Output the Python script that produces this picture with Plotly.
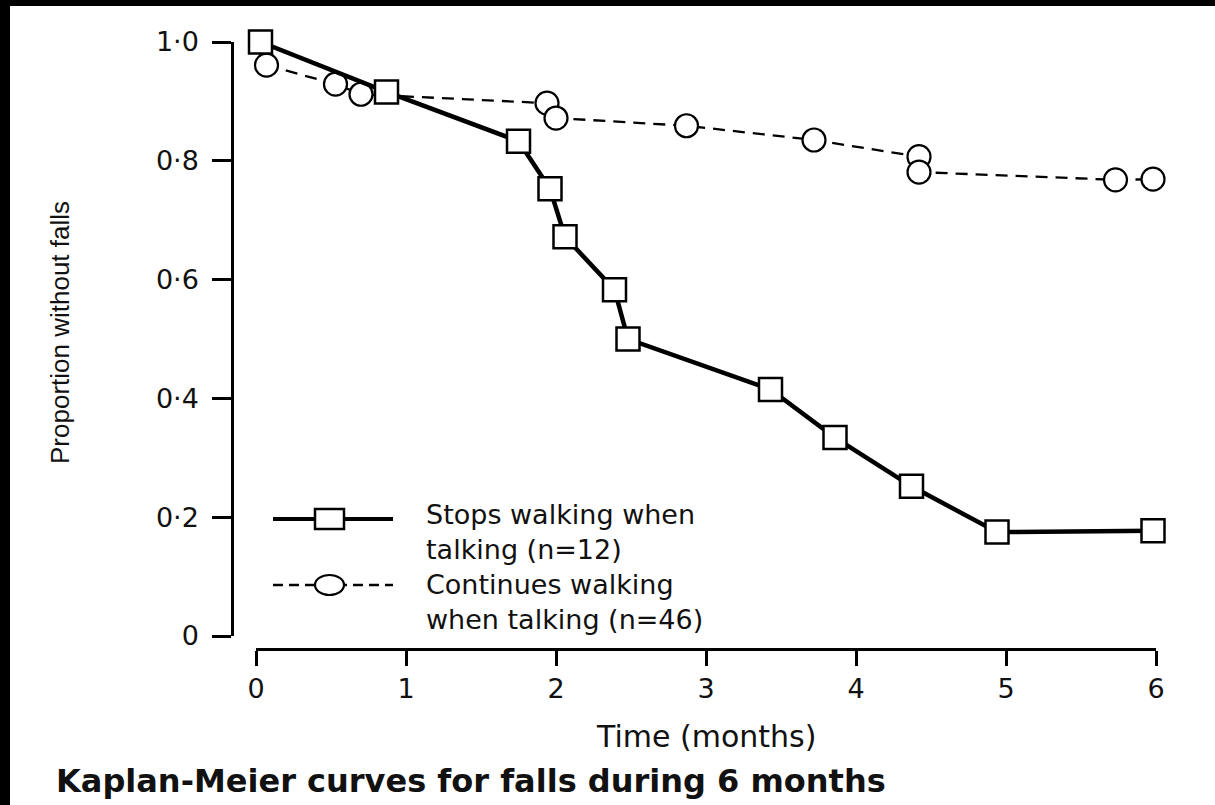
import plotly.graph_objects as go

# ---- data ----
stops_time = [0.03, 0.87, 1.75, 1.96, 2.06, 2.39, 2.48, 3.43, 3.86, 4.37, 4.94, 5.98]
stops_prop = [1.0, 0.916, 0.833, 0.753, 0.672, 0.583, 0.50, 0.415, 0.334, 0.252, 0.175, 0.177]
cont_time = [0.07, 0.53, 0.70, 1.94, 2.00, 2.87, 3.72, 4.42, 4.42, 5.73, 5.98]
cont_prop = [0.961, 0.929, 0.912, 0.897, 0.872, 0.859, 0.835, 0.807, 0.781, 0.768, 0.769]

x_ticks = [0, 1, 2, 3, 4, 5, 6]
y_ticks = [0, 0.2, 0.4, 0.6, 0.8, 1.0]
y_ticktext = ["0", "0·2", "0·4", "0·6", "0·8", "1·0"]

stops_name = "Stops walking when talking (n=12)"
cont_name = "Continues walking when talking (n=46)"
legend_lines_stops = ["Stops walking when", "talking (n=12)"]
legend_lines_cont = ["Continues walking", "when talking (n=46)"]
x_title = "Time (months)"
y_title = "Proportion without falls"
caption = "Kaplan-Meier curves for falls during 6 months"

# ---- layout geometry (pixels) ----
W, H = 1215, 805
ML, MR, MT, MB = 232, 59, 42, 156
PW, PH = W - ML - MR, H - MT - MB


def px(xp):
    return (xp - ML) / PW


def py(yp):
    return (H - MB - yp) / PH


FONT = "DejaVu Sans, Verdana, Arial, sans-serif"
INK = "#111111"

fig = go.Figure()
fig.add_trace(go.Scatter(
    x=cont_time, y=cont_prop, mode="lines+markers", name=cont_name,
    line=dict(color="black", width=2.3, dash="12px,8px"),
    marker=dict(symbol="circle", size=23, color="white",
                line=dict(color="black", width=2.2)),
    cliponaxis=False, showlegend=False))
fig.add_trace(go.Scatter(
    x=stops_time, y=stops_prop, mode="lines+markers", name=stops_name,
    line=dict(color="black", width=4.5),
    marker=dict(symbol="square", size=23, color="white",
                line=dict(color="black", width=2.5)),
    cliponaxis=False, showlegend=False))

shapes = []
# black frame strips (top and left) of the scanned figure
shapes.append(dict(type="rect", xref="paper", yref="paper", x0=px(0), x1=px(10),
                   y0=py(H), y1=py(0), fillcolor="black", line=dict(width=0), layer="above"))
shapes.append(dict(type="rect", xref="paper", yref="paper", x0=px(0), x1=px(W),
                   y0=py(6), y1=py(0), fillcolor="black", line=dict(width=0), layer="above"))
# hand-drawn legend keys
shapes.append(dict(type="line", xref="paper", yref="paper", x0=px(273), x1=px(393),
                   y0=py(519), y1=py(519), line=dict(color="black", width=4)))
shapes.append(dict(type="rect", xref="paper", yref="paper", x0=px(315), x1=px(344),
                   y0=py(529), y1=py(509), fillcolor="white", line=dict(color="black", width=2.5)))
shapes.append(dict(type="line", xref="paper", yref="paper", x0=px(273), x1=px(393),
                   y0=py(585), y1=py(585), line=dict(color="black", width=2.3, dash="10px,6px")))
shapes.append(dict(type="circle", xref="paper", yref="paper", x0=px(315), x1=px(344),
                   y0=py(595), y1=py(575), fillcolor="white", line=dict(color="black", width=2.2)))

annotations = []
legend_text = "<br>".join(legend_lines_stops + legend_lines_cont)
annotations.append(dict(text=legend_text, xref="paper", yref="paper", x=px(424), y=py(567),
                        xanchor="left", yanchor="middle", align="left", showarrow=False,
                        font=dict(family=FONT, size=27, color=INK)))
annotations.append(dict(text=x_title, xref="paper", yref="paper", x=px(706), y=py(736),
                        xanchor="center", yanchor="middle", showarrow=False,
                        font=dict(family=FONT, size=30, color=INK)))
annotations.append(dict(text=y_title, xref="paper", yref="paper", x=px(60), y=py(333),
                        xanchor="center", yanchor="middle", showarrow=False, textangle=-90,
                        font=dict(family="Liberation Sans, Arial, sans-serif",
                                  size=26, color=INK)))
annotations.append(dict(text="<b>" + caption + "</b>", xref="paper", yref="paper", x=px(54), y=py(781),
                        xanchor="left", yanchor="middle", showarrow=False,
                        font=dict(family=FONT, size=32, color=INK)))

fig.update_layout(
    width=W, height=H,
    margin=dict(l=ML, r=MR, t=MT, b=MB),
    paper_bgcolor="white", plot_bgcolor="white",
    showlegend=False,
    shapes=shapes, annotations=annotations,
    xaxis=dict(domain=[24 / PW, 1], range=[0, 6], anchor="free", position=0,
               showline=True, linecolor="black", linewidth=2.5,
               ticks="outside", ticklen=15, tickwidth=2.5, tickcolor="black",
               tickvals=x_ticks, showgrid=False, zeroline=False,
               tickfont=dict(family=FONT, size=27, color=INK)),
    yaxis=dict(domain=[13 / PH, 1], range=[0, 1], anchor="free", position=0,
               showline=True, linecolor="black", linewidth=2.5,
               ticks="outside", ticklen=19, tickwidth=2.5, tickcolor="black",
               tickvals=y_ticks, ticktext=y_ticktext, showgrid=False, zeroline=False,
               ticklabelstandoff=8,
               tickfont=dict(family=FONT, size=27, color=INK)),
)

fig.write_html("out.html")
